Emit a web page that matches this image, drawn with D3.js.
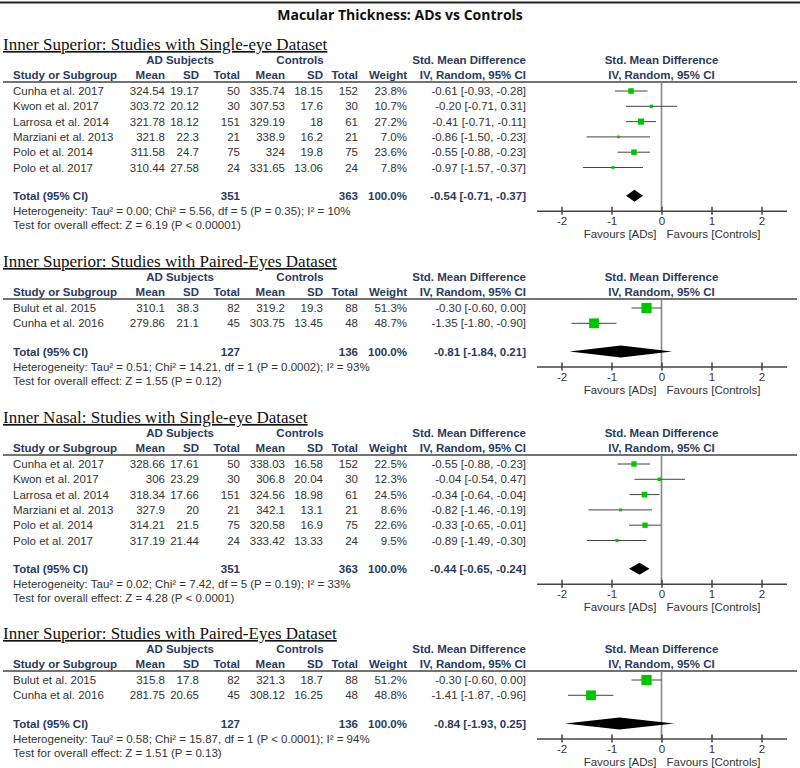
<!DOCTYPE html>
<html>
<head>
<meta charset="utf-8">
<script src="https://cdn.jsdelivr.net/npm/d3@7.9.0/dist/d3.min.js"></script>
<style>
  html, body { margin: 0; padding: 0; background: #fff; }
  svg { display: block; }
  .tbl { font-family: "Liberation Sans", Arial, sans-serif; font-size: 11.5px; fill: #333; }
  .hdr { font-weight: bold; fill: #2a3a5e; }
  .sec { font-family: "Liberation Serif", "Times New Roman", serif; font-size: 17px; fill: #111; text-decoration: underline; }
</style>
</head>
<body>
<svg id="chart" width="800" height="768"></svg>
<script>
// ---- data ----
const chartTitle = "Macular Thickness: ADs vs Controls";

const panelTitles = [
  "Inner Superior: Studies with Single-eye Dataset",
  "Inner Superior: Studies with Paired-Eyes Dataset",
  "Inner Nasal: Studies with Single-eye Dataset",
  "Inner Superior: Studies with Paired-Eyes Dataset"
];

// study, AD mean, AD sd, AD n, ctrl mean, ctrl sd, ctrl n, weight %, smd, lo, hi
const superiorSingle = [
  ["Cunha et al. 2017", 324.54, 19.17, 50, 335.74, 18.15, 152, 23.8, -0.61, -0.93, -0.28],
  ["Kwon et al. 2017", 303.72, 20.12, 30, 307.53, 17.6, 30, 10.7, -0.20, -0.71, 0.31],
  ["Larrosa et al. 2014", 321.78, 18.12, 151, 329.19, 18, 61, 27.2, -0.41, -0.71, -0.11],
  ["Marziani et al. 2013", 321.8, 22.3, 21, 338.9, 16.2, 21, 7.0, -0.86, -1.50, -0.23],
  ["Polo et al. 2014", 311.58, 24.7, 75, 324, 19.8, 75, 23.6, -0.55, -0.88, -0.23],
  ["Polo et al. 2017", 310.44, 27.58, 24, 331.65, 13.06, 24, 7.8, -0.97, -1.57, -0.37]
];
const superiorPaired = [
  ["Bulut et al. 2015", 310.1, 38.3, 82, 319.2, 19.3, 88, 51.3, -0.30, -0.60, 0.00],
  ["Cunha et al. 2016", 279.86, 21.1, 45, 303.75, 13.45, 48, 48.7, -1.35, -1.80, -0.90]
];
const nasalSingle = [
  ["Cunha et al. 2017", 328.66, 17.61, 50, 338.03, 16.58, 152, 22.5, -0.55, -0.88, -0.23],
  ["Kwon et al. 2017", 306, 23.29, 30, 306.8, 20.04, 30, 12.3, -0.04, -0.54, 0.47],
  ["Larrosa et al. 2014", 318.34, 17.66, 151, 324.56, 18.98, 61, 24.5, -0.34, -0.64, -0.04],
  ["Marziani et al. 2013", 327.9, 20, 21, 342.1, 13.1, 21, 8.6, -0.82, -1.46, -0.19],
  ["Polo et al. 2014", 314.21, 21.5, 75, 320.58, 16.9, 75, 22.6, -0.33, -0.65, -0.01],
  ["Polo et al. 2017", 317.19, 21.44, 24, 333.42, 13.33, 24, 9.5, -0.89, -1.49, -0.30]
];
const superiorPaired2 = [
  ["Bulut et al. 2015", 315.8, 17.8, 82, 321.3, 18.7, 88, 51.2, -0.30, -0.60, 0.00],
  ["Cunha et al. 2016", 281.75, 20.65, 45, 308.12, 16.25, 48, 48.8, -1.41, -1.87, -0.96]
];

// AD n, ctrl n, smd, lo, hi
const panelTotals = [
  [351, 363, -0.54, -0.71, -0.37],
  [127, 136, -0.81, -1.84, 0.21],
  [351, 363, -0.44, -0.65, -0.24],
  [127, 136, -0.84, -1.93, 0.25]
];
const heterogeneity = [
  "Heterogeneity: Tau² = 0.00; Chi² = 5.56, df = 5 (P = 0.35); I² = 10%",
  "Heterogeneity: Tau² = 0.51; Chi² = 14.21, df = 1 (P = 0.0002); I² = 93%",
  "Heterogeneity: Tau² = 0.02; Chi² = 7.42, df = 5 (P = 0.19); I² = 33%",
  "Heterogeneity: Tau² = 0.58; Chi² = 15.87, df = 1 (P < 0.0001); I² = 94%"
];
const overallTests = [
  "Test for overall effect: Z = 6.19 (P < 0.00001)",
  "Test for overall effect: Z = 1.55 (P = 0.12)",
  "Test for overall effect: Z = 4.28 (P < 0.0001)",
  "Test for overall effect: Z = 1.51 (P = 0.13)"
];
const axisTicks = [-2, -1, 0, 1, 2];

const panelRows = [superiorSingle, superiorPaired, nasalSingle, superiorPaired2];

// ---- layout ----
const panelTops = [44, 261, 417, 633];
const rowStep = 15.3;
const col = { study: 13, adMean: 165, adSD: 199, adN: 240, ctMean: 285, ctSD: 323, ctN: 358, weight: 407, smd: 526 };

const svg = d3.select("#chart");
const x = d3.scaleLinear().domain([-2.5, 2.5]).range([536.5, 786.5]);
const boxSize = d3.scaleLinear().domain([0, 50]).range([1.5, 10]);

svg.append("line").attr("x1", 0).attr("x2", 800).attr("y1", 2.5).attr("y2", 2.5)
  .attr("stroke", "#222").attr("stroke-width", 2);
svg.append("text").attr("x", 400).attr("y", 15).attr("dy", "0.35em")
  .attr("text-anchor", "middle")
  .style("font-family", "'Open Sans', sans-serif").style("font-weight", "bold")
  .style("font-size", "14px").style("fill", "#111")
  .text(chartTitle);

function txt(g, x0, y0, s, anchor, cls) {
  return g.append("text").attr("class", "tbl " + (cls || ""))
    .attr("x", x0).attr("y", y0).attr("dy", "0.35em")
    .attr("text-anchor", anchor || "end").text(s);
}

panelRows.forEach((rows, p) => {
  const top = panelTops[p];
  const g = svg.append("g");
  const tot = panelTotals[p];

  g.append("text").attr("class", "sec").attr("x", 3).attr("y", top).attr("dy", "0.35em").text(panelTitles[p]);

  // column headers
  const h1 = top + 16, h2 = top + 31, rule = top + 38;
  txt(g, 180, h1, "AD Subjects", "middle", "hdr");
  txt(g, 300, h1, "Controls", "middle", "hdr");
  txt(g, col.smd, h1, "Std. Mean Difference", "end", "hdr");
  txt(g, x(0), h1, "Std. Mean Difference", "middle", "hdr");
  txt(g, col.study, h2, "Study or Subgroup", "start", "hdr");
  [["adMean", "Mean"], ["adSD", "SD"], ["adN", "Total"], ["ctMean", "Mean"], ["ctSD", "SD"], ["ctN", "Total"], ["weight", "Weight"]]
    .forEach(([k, s]) => txt(g, col[k], h2, s, "end", "hdr"));
  txt(g, col.smd, h2, "IV, Random, 95% CI", "end", "hdr");
  txt(g, x(0), h2, "IV, Random, 95% CI", "middle", "hdr");
  g.append("line").attr("x1", 3).attr("x2", 797).attr("y1", rule).attr("y2", rule)
    .attr("stroke", "#444").attr("stroke-width", 1.5);

  const rowY = i => top + 47 + i * rowStep;
  const totY = rowY(rows.length - 1) + 28.3;
  const axisY = totY + 15;

  // zero line
  g.append("line").attr("x1", x(0)).attr("x2", x(0)).attr("y1", rule).attr("y2", axisY)
    .attr("stroke", "#888").attr("stroke-width", 1.6);

  rows.forEach((r, i) => {
    const y = rowY(i);
    txt(g, col.study, y, r[0], "start");
    txt(g, col.adMean, y, String(r[1]));
    txt(g, col.adSD, y, String(r[2]));
    txt(g, col.adN, y, String(r[3]));
    txt(g, col.ctMean, y, String(r[4]));
    txt(g, col.ctSD, y, String(r[5]));
    txt(g, col.ctN, y, String(r[6]));
    txt(g, col.weight, y, r[7].toFixed(1) + "%");
    txt(g, col.smd, y, `${r[8].toFixed(2)} [${r[9].toFixed(2)}, ${r[10].toFixed(2)}]`);

    g.append("line").attr("x1", x(r[9])).attr("x2", x(r[10])).attr("y1", y).attr("y2", y)
      .attr("stroke", "#444").attr("stroke-width", 1);
    const s = boxSize(r[7]);
    g.append("rect").attr("x", x(r[8]) - s / 2).attr("y", y - s / 2)
      .attr("width", s).attr("height", s).attr("fill", "#00c400");
  });

  // total row
  txt(g, col.study, totY, "Total (95% CI)", "start", "hdr");
  txt(g, col.adN, totY, String(tot[0]), "end", "hdr");
  txt(g, col.ctN, totY, String(tot[1]), "end", "hdr");
  txt(g, col.weight, totY, "100.0%", "end", "hdr");
  txt(g, col.smd, totY, `${tot[2].toFixed(2)} [${tot[3].toFixed(2)}, ${tot[4].toFixed(2)}]`, "end", "hdr");
  g.append("path")
    .attr("d", `M${x(tot[3])},${totY}L${x(tot[2])},${totY - 6}L${x(tot[4])},${totY}L${x(tot[2])},${totY + 6}Z`)
    .attr("fill", "#000");

  txt(g, col.study, totY + 15, heterogeneity[p], "start");
  txt(g, col.study, totY + 29, overallTests[p], "start");

  // axis
  const ax = g.append("g").attr("transform", `translate(0,${axisY})`)
    .call(d3.axisBottom(x).tickValues(axisTicks).tickSize(4).tickSizeOuter(0).tickPadding(2).tickFormat(d => String(d)));
  ax.select(".domain").attr("stroke", "#444").attr("stroke-width", 1.5);
  ax.selectAll(".tick line").attr("y1", -4).attr("stroke", "#444").attr("stroke-width", 1.5);
  ax.selectAll(".tick text").attr("class", "tbl").style("font-size", "11.5px").attr("fill", "#333");
  txt(g, x(0) - 5, axisY + 23, "Favours [ADs]", "end");
  txt(g, x(0) + 5, axisY + 23, "Favours [Controls]", "start");
});
</script>
</body>
</html>
